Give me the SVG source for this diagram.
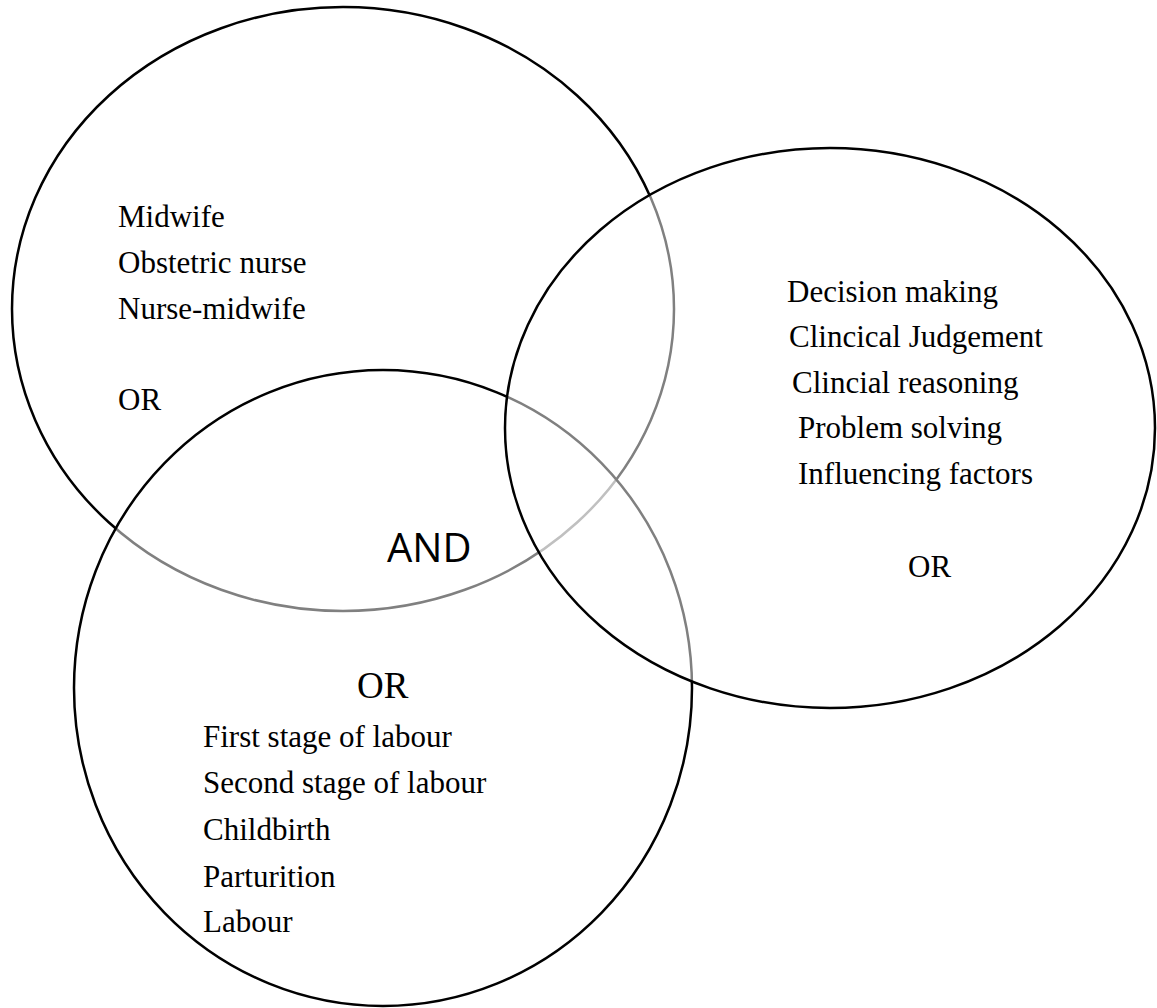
<svg xmlns="http://www.w3.org/2000/svg" width="1157" height="1008" viewBox="0 0 1157 1008">
  <style>
    .set { fill: #ffffff; fill-opacity: 0.5; stroke: #000000; stroke-width: 2.5; }
    .term { font-family: "Liberation Serif", "Times New Roman", serif; font-size: 31px; fill: #000000; }
    .op { font-family: "Liberation Serif", "Times New Roman", serif; font-size: 31px; fill: #000000; }
    .op-big { font-size: 37px; }
    .and { font-family: "Open Sans", "Liberation Sans", sans-serif; font-size: 40px; fill: #000000; }
  </style>
  <rect width="1157" height="1008" fill="#ffffff"/>

  <!-- Venn sets: each later set veils the outlines underneath with half-white -->
  <g id="set-professional">
    <ellipse class="set" cx="343" cy="309" rx="331" ry="302"/>
  </g>
  <g id="set-labour">
    <ellipse class="set" cx="383" cy="688" rx="309" ry="318"/>
  </g>
  <g id="set-decision">
    <ellipse class="set" cx="830" cy="428" rx="325" ry="280"/>
  </g>

  <!-- labels -->
  <g id="label-professional">
    <text class="term" x="118" y="227">Midwife</text>
    <text class="term" x="118" y="273">Obstetric nurse</text>
    <text class="term" x="118" y="319">Nurse-midwife</text>
    <text class="op" x="118" y="410">OR</text>
  </g>
  <g id="label-decision">
    <text class="term" x="787" y="302">Decision making</text>
    <text class="term" x="789" y="347">Clincical Judgement</text>
    <text class="term" x="792" y="393">Clincial reasoning</text>
    <text class="term" x="798" y="438">Problem solving</text>
    <text class="term" x="798" y="484">Influencing factors</text>
    <text class="op" x="908" y="577">OR</text>
  </g>
  <g id="label-labour">
    <text class="op op-big" x="357" y="698">OR</text>
    <text class="term" x="203" y="747">First stage of labour</text>
    <text class="term" x="203" y="793">Second stage of labour</text>
    <text class="term" x="203" y="840">Childbirth</text>
    <text class="term" x="203" y="887">Parturition</text>
    <text class="term" x="203" y="932">Labour</text>
  </g>
  <g id="label-and">
    <text class="and" x="387" y="562">AND</text>
  </g>
</svg>
